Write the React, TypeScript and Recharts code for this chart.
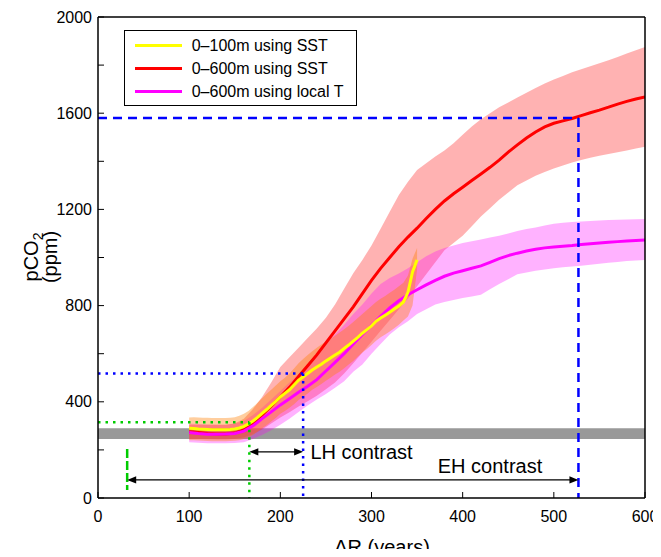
import React from 'react';
import { ComposedChart, Area, Line, XAxis, YAxis, ReferenceLine, ReferenceDot, Legend } from 'recharts';

// ---------- data ----------
const years = [100, 110, 120, 130, 140, 150, 160, 170, 180, 190, 200, 210, 220, 230, 240, 250, 260, 270, 280, 290, 300, 310, 320, 330, 340, 350, 360, 370, 380, 390, 400, 410, 420, 430, 440, 450, 460, 470, 480, 490, 500, 510, 520, 530, 540, 550, 560, 570, 580, 590, 600];

const redMean = [276, 272, 268, 266, 266, 270, 283, 310, 345, 382, 420, 460, 505, 550, 595, 645, 695, 745, 795, 850, 905, 955, 1000, 1045, 1085, 1122, 1162, 1200, 1235, 1265, 1292, 1320, 1347, 1375, 1405, 1438, 1468, 1497, 1522, 1543, 1558, 1568, 1578, 1590, 1602, 1613, 1625, 1638, 1649, 1659, 1667];
const redLow = [245, 245, 244, 243, 243, 245, 252, 265, 285, 310, 335, 357, 380, 402, 425, 452, 480, 518, 560, 605, 650, 695, 740, 785, 830, 880, 930, 980, 1030, 1060, 1090, 1130, 1170, 1205, 1240, 1270, 1300, 1320, 1340, 1355, 1370, 1383, 1395, 1405, 1415, 1423, 1430, 1438, 1445, 1453, 1460];
const redHigh = [305, 305, 305, 305, 305, 310, 330, 370, 420, 480, 545, 585, 625, 665, 705, 750, 805, 870, 935, 990, 1050, 1120, 1190, 1260, 1315, 1364, 1392, 1420, 1445, 1475, 1510, 1545, 1575, 1600, 1625, 1645, 1665, 1685, 1705, 1723, 1740, 1755, 1770, 1783, 1795, 1808, 1820, 1834, 1848, 1862, 1875];

const magMean = [272, 268, 265, 265, 266, 268, 278, 300, 330, 358, 387, 413, 440, 465, 492, 528, 564, 600, 640, 680, 718, 755, 790, 820, 845, 866, 886, 905, 922, 935, 945, 955, 965, 980, 995, 1008, 1018, 1027, 1034, 1040, 1044, 1047, 1050, 1054, 1057, 1060, 1063, 1066, 1069, 1071, 1073];
const magLow = [232, 230, 228, 228, 228, 229, 232, 245, 262, 282, 305, 330, 358, 385, 410, 432, 458, 485, 525, 555, 600, 640, 680, 710, 735, 765, 785, 805, 815, 823, 832, 838, 845, 868, 890, 910, 930, 938, 945, 950, 955, 959, 963, 966, 970, 974, 978, 981, 985, 988, 990];
const magHigh = [310, 308, 306, 305, 305, 310, 320, 345, 375, 410, 445, 480, 515, 555, 600, 640, 680, 720, 765, 805, 850, 890, 915, 933, 955, 980, 1005, 1025, 1040, 1050, 1060, 1068, 1075, 1083, 1090, 1100, 1110, 1118, 1125, 1133, 1140, 1144, 1148, 1150, 1152, 1154, 1156, 1157, 1158, 1159, 1160];

const yellowYears = [100, 105, 110, 115, 120, 125, 130, 135, 140, 145, 150, 155, 160, 165, 170, 175, 180, 185, 190, 195, 200, 205, 210, 215, 220, 225, 230, 235, 240, 245, 250, 255, 260, 265, 270, 275, 280, 285, 290, 295, 300, 305, 310, 315, 320, 325, 330, 335, 340, 345, 350];
const yellowMean = [290, 289, 287, 286, 285, 284, 284, 284, 284, 285, 287, 291, 298, 308, 320, 335, 352, 368, 385, 402, 420, 435, 450, 470, 490, 503, 518, 532, 545, 556, 570, 582, 595, 606, 622, 636, 652, 668, 685, 700, 716, 735, 748, 760, 772, 786, 798, 815, 855, 940, 990];
const yellowLow = [240, 240, 239, 238, 237, 236, 236, 236, 236, 237, 238, 240, 245, 252, 262, 275, 290, 303, 318, 333, 350, 362, 375, 390, 408, 420, 435, 450, 462, 474, 488, 500, 514, 525, 540, 555, 570, 588, 605, 620, 636, 654, 668, 680, 692, 706, 720, 738, 755, 800, 950];
const yellowHigh = [335, 336, 335, 334, 334, 333, 333, 333, 333, 334, 336, 342, 350, 362, 378, 396, 415, 433, 450, 468, 485, 500, 518, 538, 560, 578, 595, 610, 625, 638, 650, 662, 675, 688, 702, 716, 732, 748, 765, 782, 798, 815, 828, 840, 853, 866, 880, 895, 925, 995, 1040];

const greyYears = [0, 600];
const greyRange = [245, 290];

const xTicks = [0, 100, 200, 300, 400, 500, 600];
const yTicks = [0, 200, 400, 600, 800, 1000, 1200, 1400, 1600, 1800, 2000];

const legendLabels = ['0–100m using SST', '0–600m using SST', '0–600m using local T'];
const legendColors = ['#ffff00', '#ff0000', '#ff00ff'];

// annotation values (years / ppm)
const ehYear = 527;
const ehPco2 = 1580;
const lhYear = 225;
const lhPco2 = 518;
const preYear = 166;
const prePco2 = 315;
const greenDashYear = 32;
const greenDashRange = [33, 204];
const lhArrowPco2 = 192;
const ehArrowPco2 = 75;
const lhTextPos = [233, 191];
const ehTextPos = [430, 133];

// ---------- tables ----------
const redData = years.map((x, i) => ({ x, mean: redMean[i], band: [redLow[i], redHigh[i]] }));
const magData = years.map((x, i) => ({ x, mean: magMean[i], band: [magLow[i], magHigh[i]] }));
const yellowData = yellowYears.map((x, i) => ({ x, mean: yellowMean[i], band: [yellowLow[i], yellowHigh[i]] }));
const greyData = greyYears.map((x) => ({ x, band: greyRange, lo: greyRange[0] }));

const FONT = '"Liberation Sans", Arial, Helvetica, sans-serif';

const DoubleArrow = (props: any) => {
  const { x1, y1, x2 } = props;
  const a = Math.min(x1, x2);
  const b = Math.max(x1, x2);
  const y = y1;
  const L = 9;
  const W = 3.6;
  return (
    <g>
      <line x1={a + L - 1} y1={y} x2={b - L + 1} y2={y} stroke="#000" strokeWidth={1.3} />
      <polygon points={`${a},${y} ${a + L},${y - W} ${a + L},${y + W}`} fill="#000" />
      <polygon points={`${b},${y} ${b - L},${y - W} ${b - L},${y + W}`} fill="#000" />
    </g>
  );
};

const makeText = (label: string, anchor: string) => (props: any) => (
  <text x={props.cx} y={props.cy} dy="0.36em" textAnchor={anchor} fontFamily={FONT} fontSize={20} fill="#000">
    {label}
  </text>
);

const YLabel = () => (
  <g fontFamily={FONT} fontSize={20} fill="#000">
    <text transform="translate(30,249) rotate(-90)" textAnchor="middle">
      pCO<tspan fontSize={14} dy={5}>2</tspan>
    </text>
    <text transform="translate(49,249) rotate(-90)" textAnchor="middle">(ppm)</text>
  </g>
);

const XLabel = () => (
  <text x={374} y={546} textAnchor="middle" fontFamily={FONT} fontSize={20} fill="#000">
    ΔR (years)
  </text>
);

const LegendBox = () => (
  <div
    style={{
      boxSizing: 'border-box',
      width: 233,
      height: 76,
      border: '1px solid #000',
      background: '#fff',
      position: 'relative',
      fontFamily: FONT,
      fontSize: 16,
      color: '#000',
    }}
  >
    {legendLabels.map((l, i) => (
      <div
        key={l}
        style={{ position: 'absolute', left: 0, top: 3.2 + 23 * i, height: 23, display: 'flex', alignItems: 'center' }}
      >
        <svg width={57} height={23} style={{ display: 'block' }}>
          <line x1={10} x2={57} y1={11.5} y2={11.5} stroke={legendColors[i]} strokeWidth={3} />
        </svg>
        <span style={{ marginLeft: 9.7, whiteSpace: 'nowrap', lineHeight: '23px' }}>{l}</span>
      </div>
    ))}
  </div>
);

const tickStyle = { fontFamily: FONT, fontSize: 16, fill: '#000' };
const axisLineStyle = { stroke: '#000', strokeWidth: 1.5 };
const tickLineStyle = { stroke: '#000', strokeWidth: 1 };

export default function App() {
  return (
    <div style={{ width: 645, height: 541, overflow: 'visible' }}>
      <ComposedChart width={653} height={549} margin={{ top: 8, right: 15, bottom: 8, left: 0 }}>
        <XAxis
          dataKey="x"
          type="number"
          domain={[0, 600]}
          allowDataOverflow
          ticks={xTicks}
          interval={0}
          height={51}
          tickSize={-6}
          tickMargin={19}
          tick={tickStyle}
          axisLine={axisLineStyle}
          tickLine={tickLineStyle}
          label={XLabel}
        />
        <XAxis
          xAxisId="top"
          orientation="top"
          dataKey="x"
          type="number"
          domain={[0, 600]}
          allowDataOverflow
          ticks={xTicks}
          interval={0}
          height={1}
          tickSize={-6}
          tick={false}
          axisLine={axisLineStyle}
          tickLine={tickLineStyle}
        />
        <YAxis
          type="number"
          domain={[0, 2000]}
          allowDataOverflow
          ticks={yTicks}
          interval={0}
          width={90}
          tickSize={-6}
          tickMargin={12}
          tick={tickStyle}
          tickFormatter={(v: number) => (v % 400 === 0 ? String(v) : '')}
          axisLine={axisLineStyle}
          tickLine={tickLineStyle}
          label={YLabel}
        />
        <YAxis
          yAxisId="right"
          orientation="right"
          type="number"
          domain={[0, 2000]}
          allowDataOverflow
          ticks={yTicks}
          interval={0}
          width={1}
          tickSize={-6}
          tick={false}
          axisLine={axisLineStyle}
          tickLine={tickLineStyle}
        />
        <Legend
          layout="horizontal"
          verticalAlign="middle"
          align="center"
          wrapperStyle={{ top: 22, left: 116, width: 233, height: 76 }}
          content={() => <LegendBox />}
        />

        <Area data={greyData} dataKey="band" stroke="none" fill="#999999" fillOpacity={1} isAnimationActive={false} dot={false} activeDot={false} legendType="none" />
        <Area data={redData} dataKey="band" stroke="none" fill="#ff0000" fillOpacity={0.3} isAnimationActive={false} dot={false} activeDot={false} legendType="none" />
        <Area data={magData} dataKey="band" stroke="none" fill="#ff00ff" fillOpacity={0.3} isAnimationActive={false} dot={false} activeDot={false} legendType="none" />
        <Area data={yellowData} dataKey="band" stroke="none" fill="#ff7f00" fillOpacity={0.38} isAnimationActive={false} dot={false} activeDot={false} legendType="none" />

        <Line data={redData} dataKey="mean" stroke="#ff0000" strokeWidth={3} dot={false} activeDot={false} isAnimationActive={false} />
        <Line data={magData} dataKey="mean" stroke="#ff00ff" strokeWidth={3} dot={false} activeDot={false} isAnimationActive={false} />
        <Line data={yellowData} dataKey="mean" stroke="#ffff00" strokeWidth={3} dot={false} activeDot={false} isAnimationActive={false} />

        {/* invisible series so the top / right frame axes are drawn */}
        <Line data={greyData} dataKey="lo" xAxisId="top" yAxisId="right" stroke="none" strokeOpacity={0} dot={false} activeDot={false} isAnimationActive={false} legendType="none" />

        <ReferenceLine segment={[{ x: 0, y: ehPco2 }, { x: ehYear, y: ehPco2 }]} stroke="#0000ff" strokeWidth={2.5} strokeDasharray="9 6" />
        <ReferenceLine segment={[{ x: ehYear, y: ehPco2 }, { x: ehYear, y: 0 }]} stroke="#0000ff" strokeWidth={2.5} strokeDasharray="9 6" />
        <ReferenceLine segment={[{ x: 0, y: lhPco2 }, { x: lhYear, y: lhPco2 }]} stroke="#0000ff" strokeWidth={2.5} strokeDasharray="2.5 5" />
        <ReferenceLine segment={[{ x: lhYear, y: lhPco2 }, { x: lhYear, y: 0 }]} stroke="#0000ff" strokeWidth={2.5} strokeDasharray="2.5 5" />
        <ReferenceLine segment={[{ x: 0, y: prePco2 }, { x: preYear, y: prePco2 }]} stroke="#00cc00" strokeWidth={2.5} strokeDasharray="2.5 5" />
        <ReferenceLine segment={[{ x: preYear, y: prePco2 }, { x: preYear, y: 0 }]} stroke="#00cc00" strokeWidth={2.5} strokeDasharray="2.5 5" />
        <ReferenceLine segment={[{ x: greenDashYear, y: greenDashRange[1] }, { x: greenDashYear, y: greenDashRange[0] }]} stroke="#00cc00" strokeWidth={2.5} strokeDasharray="9 3" />

        <ReferenceLine segment={[{ x: preYear, y: lhArrowPco2 }, { x: lhYear, y: lhArrowPco2 }]} shape={DoubleArrow} />
        <ReferenceLine segment={[{ x: greenDashYear, y: ehArrowPco2 }, { x: ehYear, y: ehArrowPco2 }]} shape={DoubleArrow} />

        <ReferenceDot x={lhTextPos[0]} y={lhTextPos[1]} r={0} shape={makeText('LH contrast', 'start')} />
        <ReferenceDot x={ehTextPos[0]} y={ehTextPos[1]} r={0} shape={makeText('EH contrast', 'middle')} />
      </ComposedChart>
    </div>
  );
}
